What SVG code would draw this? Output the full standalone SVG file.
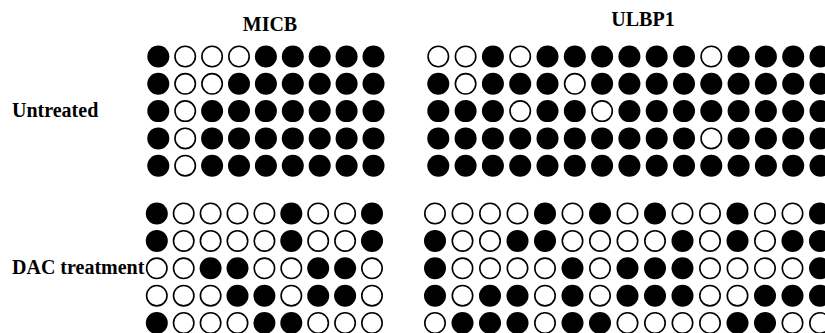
<svg xmlns="http://www.w3.org/2000/svg" width="825" height="333" viewBox="0 0 825 333">
<style>
text{font-family:"Liberation Serif","Times New Roman",serif;font-weight:bold;font-size:20px;fill:#000}
.f{fill:#000}
.o{fill:#fff;stroke:#000;stroke-width:1.6}
.f{r:11px}
.o{r:10.2px}
</style>
<rect width="825" height="333" fill="#fff"/>
<g id="labels">
<text x="270" y="31" text-anchor="middle">MICB</text>
<text x="643" y="26" text-anchor="middle">ULBP1</text>
<text x="12" y="117">Untreated</text>
<text x="12" y="274">DAC treatment</text>
</g>
<g id="micb-untreated">
<circle class="f" cx="158.3" cy="56.5" r="11"/><circle class="o" cx="185.2" cy="56.5" r="10.2"/><circle class="o" cx="212.1" cy="56.5" r="10.2"/><circle class="o" cx="239" cy="56.5" r="10.2"/><circle class="f" cx="265.9" cy="56.5" r="11"/><circle class="f" cx="292.8" cy="56.5" r="11"/><circle class="f" cx="319.7" cy="56.5" r="11"/><circle class="f" cx="346.6" cy="56.5" r="11"/><circle class="f" cx="373.5" cy="56.5" r="11"/>
<circle class="f" cx="158.3" cy="83.8" r="11"/><circle class="o" cx="185.2" cy="83.8" r="10.2"/><circle class="o" cx="212.1" cy="83.8" r="10.2"/><circle class="f" cx="239" cy="83.8" r="11"/><circle class="f" cx="265.9" cy="83.8" r="11"/><circle class="f" cx="292.8" cy="83.8" r="11"/><circle class="f" cx="319.7" cy="83.8" r="11"/><circle class="f" cx="346.6" cy="83.8" r="11"/><circle class="f" cx="373.5" cy="83.8" r="11"/>
<circle class="f" cx="158.3" cy="111.1" r="11"/><circle class="o" cx="185.2" cy="111.1" r="10.2"/><circle class="f" cx="212.1" cy="111.1" r="11"/><circle class="f" cx="239" cy="111.1" r="11"/><circle class="f" cx="265.9" cy="111.1" r="11"/><circle class="f" cx="292.8" cy="111.1" r="11"/><circle class="f" cx="319.7" cy="111.1" r="11"/><circle class="f" cx="346.6" cy="111.1" r="11"/><circle class="f" cx="373.5" cy="111.1" r="11"/>
<circle class="f" cx="158.3" cy="138.4" r="11"/><circle class="o" cx="185.2" cy="138.4" r="10.2"/><circle class="f" cx="212.1" cy="138.4" r="11"/><circle class="f" cx="239" cy="138.4" r="11"/><circle class="f" cx="265.9" cy="138.4" r="11"/><circle class="f" cx="292.8" cy="138.4" r="11"/><circle class="f" cx="319.7" cy="138.4" r="11"/><circle class="f" cx="346.6" cy="138.4" r="11"/><circle class="f" cx="373.5" cy="138.4" r="11"/>
<circle class="f" cx="158.3" cy="165.7" r="11"/><circle class="o" cx="185.2" cy="165.7" r="10.2"/><circle class="f" cx="212.1" cy="165.7" r="11"/><circle class="f" cx="239" cy="165.7" r="11"/><circle class="f" cx="265.9" cy="165.7" r="11"/><circle class="f" cx="292.8" cy="165.7" r="11"/><circle class="f" cx="319.7" cy="165.7" r="11"/><circle class="f" cx="346.6" cy="165.7" r="11"/><circle class="f" cx="373.5" cy="165.7" r="11"/>
</g>
<g id="micb-dac">
<circle class="f" cx="156.8" cy="213.5" r="11"/><circle class="o" cx="183.7" cy="213.5" r="10.2"/><circle class="o" cx="210.6" cy="213.5" r="10.2"/><circle class="o" cx="237.5" cy="213.5" r="10.2"/><circle class="o" cx="264.4" cy="213.5" r="10.2"/><circle class="f" cx="291.3" cy="213.5" r="11"/><circle class="o" cx="318.2" cy="213.5" r="10.2"/><circle class="o" cx="345.1" cy="213.5" r="10.2"/><circle class="f" cx="372" cy="213.5" r="11"/>
<circle class="f" cx="156.8" cy="240.9" r="11"/><circle class="o" cx="183.7" cy="240.9" r="10.2"/><circle class="o" cx="210.6" cy="240.9" r="10.2"/><circle class="o" cx="237.5" cy="240.9" r="10.2"/><circle class="o" cx="264.4" cy="240.9" r="10.2"/><circle class="f" cx="291.3" cy="240.9" r="11"/><circle class="o" cx="318.2" cy="240.9" r="10.2"/><circle class="o" cx="345.1" cy="240.9" r="10.2"/><circle class="f" cx="372" cy="240.9" r="11"/>
<circle class="o" cx="156.8" cy="268.3" r="10.2"/><circle class="o" cx="183.7" cy="268.3" r="10.2"/><circle class="f" cx="210.6" cy="268.3" r="11"/><circle class="f" cx="237.5" cy="268.3" r="11"/><circle class="o" cx="264.4" cy="268.3" r="10.2"/><circle class="o" cx="291.3" cy="268.3" r="10.2"/><circle class="f" cx="318.2" cy="268.3" r="11"/><circle class="f" cx="345.1" cy="268.3" r="11"/><circle class="o" cx="372" cy="268.3" r="10.2"/>
<circle class="o" cx="156.8" cy="295.7" r="10.2"/><circle class="o" cx="183.7" cy="295.7" r="10.2"/><circle class="o" cx="210.6" cy="295.7" r="10.2"/><circle class="f" cx="237.5" cy="295.7" r="11"/><circle class="f" cx="264.4" cy="295.7" r="11"/><circle class="o" cx="291.3" cy="295.7" r="10.2"/><circle class="f" cx="318.2" cy="295.7" r="11"/><circle class="f" cx="345.1" cy="295.7" r="11"/><circle class="o" cx="372" cy="295.7" r="10.2"/>
<circle class="f" cx="156.8" cy="323" r="11"/><circle class="o" cx="183.7" cy="323" r="10.2"/><circle class="o" cx="210.6" cy="323" r="10.2"/><circle class="o" cx="237.5" cy="323" r="10.2"/><circle class="f" cx="264.4" cy="323" r="11"/><circle class="f" cx="291.3" cy="323" r="11"/><circle class="o" cx="318.2" cy="323" r="10.2"/><circle class="o" cx="345.1" cy="323" r="10.2"/><circle class="o" cx="372" cy="323" r="10.2"/>
</g>
<g id="ulbp1-untreated">
<circle class="o" cx="438.3" cy="56.5" r="10.2"/><circle class="o" cx="465.6" cy="56.5" r="10.2"/><circle class="f" cx="492.9" cy="56.5" r="11"/><circle class="o" cx="520.2" cy="56.5" r="10.2"/><circle class="f" cx="547.5" cy="56.5" r="11"/><circle class="f" cx="574.8" cy="56.5" r="11"/><circle class="f" cx="602.1" cy="56.5" r="11"/><circle class="f" cx="629.4" cy="56.5" r="11"/><circle class="f" cx="656.7" cy="56.5" r="11"/><circle class="f" cx="684" cy="56.5" r="11"/><circle class="o" cx="711.3" cy="56.5" r="10.2"/><circle class="f" cx="738.6" cy="56.5" r="11"/><circle class="f" cx="765.9" cy="56.5" r="11"/><circle class="f" cx="793.2" cy="56.5" r="11"/><circle class="f" cx="820.5" cy="56.5" r="11"/>
<circle class="f" cx="438.3" cy="83.8" r="11"/><circle class="o" cx="465.6" cy="83.8" r="10.2"/><circle class="f" cx="492.9" cy="83.8" r="11"/><circle class="f" cx="520.2" cy="83.8" r="11"/><circle class="f" cx="547.5" cy="83.8" r="11"/><circle class="o" cx="574.8" cy="83.8" r="10.2"/><circle class="f" cx="602.1" cy="83.8" r="11"/><circle class="f" cx="629.4" cy="83.8" r="11"/><circle class="f" cx="656.7" cy="83.8" r="11"/><circle class="f" cx="684" cy="83.8" r="11"/><circle class="f" cx="711.3" cy="83.8" r="11"/><circle class="f" cx="738.6" cy="83.8" r="11"/><circle class="f" cx="765.9" cy="83.8" r="11"/><circle class="f" cx="793.2" cy="83.8" r="11"/><circle class="f" cx="820.5" cy="83.8" r="11"/>
<circle class="f" cx="438.3" cy="111.1" r="11"/><circle class="f" cx="465.6" cy="111.1" r="11"/><circle class="f" cx="492.9" cy="111.1" r="11"/><circle class="o" cx="520.2" cy="111.1" r="10.2"/><circle class="f" cx="547.5" cy="111.1" r="11"/><circle class="f" cx="574.8" cy="111.1" r="11"/><circle class="o" cx="602.1" cy="111.1" r="10.2"/><circle class="f" cx="629.4" cy="111.1" r="11"/><circle class="f" cx="656.7" cy="111.1" r="11"/><circle class="f" cx="684" cy="111.1" r="11"/><circle class="f" cx="711.3" cy="111.1" r="11"/><circle class="f" cx="738.6" cy="111.1" r="11"/><circle class="f" cx="765.9" cy="111.1" r="11"/><circle class="f" cx="793.2" cy="111.1" r="11"/><circle class="f" cx="820.5" cy="111.1" r="11"/>
<circle class="f" cx="438.3" cy="138.4" r="11"/><circle class="f" cx="465.6" cy="138.4" r="11"/><circle class="f" cx="492.9" cy="138.4" r="11"/><circle class="f" cx="520.2" cy="138.4" r="11"/><circle class="f" cx="547.5" cy="138.4" r="11"/><circle class="f" cx="574.8" cy="138.4" r="11"/><circle class="f" cx="602.1" cy="138.4" r="11"/><circle class="f" cx="629.4" cy="138.4" r="11"/><circle class="f" cx="656.7" cy="138.4" r="11"/><circle class="f" cx="684" cy="138.4" r="11"/><circle class="o" cx="711.3" cy="138.4" r="10.2"/><circle class="f" cx="738.6" cy="138.4" r="11"/><circle class="f" cx="765.9" cy="138.4" r="11"/><circle class="f" cx="793.2" cy="138.4" r="11"/><circle class="f" cx="820.5" cy="138.4" r="11"/>
<circle class="f" cx="438.3" cy="165.7" r="11"/><circle class="f" cx="465.6" cy="165.7" r="11"/><circle class="f" cx="492.9" cy="165.7" r="11"/><circle class="f" cx="520.2" cy="165.7" r="11"/><circle class="f" cx="547.5" cy="165.7" r="11"/><circle class="f" cx="574.8" cy="165.7" r="11"/><circle class="f" cx="602.1" cy="165.7" r="11"/><circle class="f" cx="629.4" cy="165.7" r="11"/><circle class="f" cx="656.7" cy="165.7" r="11"/><circle class="f" cx="684" cy="165.7" r="11"/><circle class="f" cx="711.3" cy="165.7" r="11"/><circle class="f" cx="738.6" cy="165.7" r="11"/><circle class="f" cx="765.9" cy="165.7" r="11"/><circle class="f" cx="793.2" cy="165.7" r="11"/><circle class="f" cx="820.5" cy="165.7" r="11"/>
</g>
<g id="ulbp1-dac">
<circle class="o" cx="435" cy="213.5" r="10.2"/><circle class="o" cx="462.5" cy="213.5" r="10.2"/><circle class="o" cx="490" cy="213.5" r="10.2"/><circle class="o" cx="517.5" cy="213.5" r="10.2"/><circle class="f" cx="545" cy="213.5" r="11"/><circle class="o" cx="572.5" cy="213.5" r="10.2"/><circle class="f" cx="600" cy="213.5" r="11"/><circle class="o" cx="627.5" cy="213.5" r="10.2"/><circle class="f" cx="655" cy="213.5" r="11"/><circle class="o" cx="682.5" cy="213.5" r="10.2"/><circle class="o" cx="710" cy="213.5" r="10.2"/><circle class="f" cx="737.5" cy="213.5" r="11"/><circle class="o" cx="765" cy="213.5" r="10.2"/><circle class="o" cx="792.5" cy="213.5" r="10.2"/><circle class="f" cx="820" cy="213.5" r="11"/>
<circle class="f" cx="435" cy="240.9" r="11"/><circle class="o" cx="462.5" cy="240.9" r="10.2"/><circle class="o" cx="490" cy="240.9" r="10.2"/><circle class="f" cx="517.5" cy="240.9" r="11"/><circle class="f" cx="545" cy="240.9" r="11"/><circle class="o" cx="572.5" cy="240.9" r="10.2"/><circle class="o" cx="600" cy="240.9" r="10.2"/><circle class="o" cx="627.5" cy="240.9" r="10.2"/><circle class="o" cx="655" cy="240.9" r="10.2"/><circle class="f" cx="682.5" cy="240.9" r="11"/><circle class="o" cx="710" cy="240.9" r="10.2"/><circle class="f" cx="737.5" cy="240.9" r="11"/><circle class="o" cx="765" cy="240.9" r="10.2"/><circle class="f" cx="792.5" cy="240.9" r="11"/><circle class="f" cx="820" cy="240.9" r="11"/>
<circle class="f" cx="435" cy="268.3" r="11"/><circle class="o" cx="462.5" cy="268.3" r="10.2"/><circle class="o" cx="490" cy="268.3" r="10.2"/><circle class="o" cx="517.5" cy="268.3" r="10.2"/><circle class="o" cx="545" cy="268.3" r="10.2"/><circle class="f" cx="572.5" cy="268.3" r="11"/><circle class="o" cx="600" cy="268.3" r="10.2"/><circle class="f" cx="627.5" cy="268.3" r="11"/><circle class="f" cx="655" cy="268.3" r="11"/><circle class="f" cx="682.5" cy="268.3" r="11"/><circle class="o" cx="710" cy="268.3" r="10.2"/><circle class="o" cx="737.5" cy="268.3" r="10.2"/><circle class="o" cx="765" cy="268.3" r="10.2"/><circle class="o" cx="792.5" cy="268.3" r="10.2"/><circle class="f" cx="820" cy="268.3" r="11"/>
<circle class="f" cx="435" cy="295.7" r="11"/><circle class="o" cx="462.5" cy="295.7" r="10.2"/><circle class="f" cx="490" cy="295.7" r="11"/><circle class="f" cx="517.5" cy="295.7" r="11"/><circle class="o" cx="545" cy="295.7" r="10.2"/><circle class="f" cx="572.5" cy="295.7" r="11"/><circle class="o" cx="600" cy="295.7" r="10.2"/><circle class="f" cx="627.5" cy="295.7" r="11"/><circle class="f" cx="655" cy="295.7" r="11"/><circle class="f" cx="682.5" cy="295.7" r="11"/><circle class="o" cx="710" cy="295.7" r="10.2"/><circle class="o" cx="737.5" cy="295.7" r="10.2"/><circle class="f" cx="765" cy="295.7" r="11"/><circle class="f" cx="792.5" cy="295.7" r="11"/><circle class="f" cx="820" cy="295.7" r="11"/>
<circle class="o" cx="435" cy="323" r="10.2"/><circle class="f" cx="462.5" cy="323" r="11"/><circle class="f" cx="490" cy="323" r="11"/><circle class="f" cx="517.5" cy="323" r="11"/><circle class="o" cx="545" cy="323" r="10.2"/><circle class="f" cx="572.5" cy="323" r="11"/><circle class="f" cx="600" cy="323" r="11"/><circle class="o" cx="627.5" cy="323" r="10.2"/><circle class="o" cx="655" cy="323" r="10.2"/><circle class="o" cx="682.5" cy="323" r="10.2"/><circle class="o" cx="710" cy="323" r="10.2"/><circle class="f" cx="737.5" cy="323" r="11"/><circle class="f" cx="765" cy="323" r="11"/><circle class="o" cx="792.5" cy="323" r="10.2"/><circle class="o" cx="820" cy="323" r="10.2"/>
</g>
</svg>
